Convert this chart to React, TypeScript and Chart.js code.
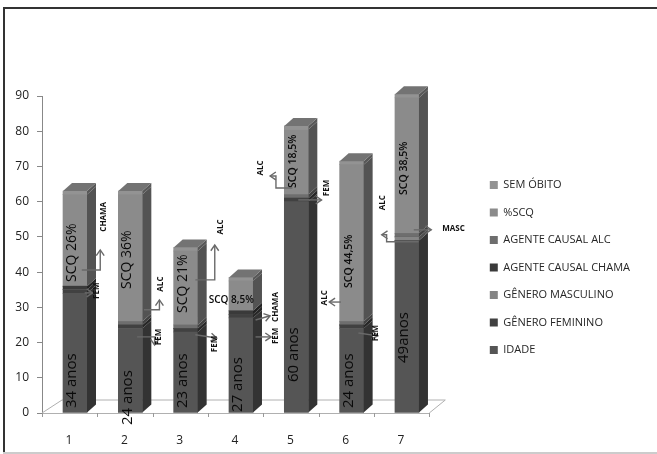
import { useEffect, useRef } from 'react';
import { Chart, registerables } from 'chart.js';
Chart.register(...registerables);

const categories = [1, 2, 3, 4, 5, 6, 7];
const idade = [34, 24, 23, 27, 60, 24, 49];
const generoFeminino = [1, 1, 1, 1, 1, 1, 0];
const generoMasculino = [0, 0, 0, 0, 0, 0, 1];
const agenteChama = [1, 0, 0, 1, 0, 0, 0];
const agenteAlc = [0, 1, 1, 0, 1, 1, 1];
const scq = [26, 36, 21, 8.5, 18.5, 44.5, 38.5];
const semObito = [1, 1, 1, 1, 1, 1, 1];

const idadeLabels = ['34 anos', '24 anos', '23 anos', '27 anos', '60 anos', '24 anos', '49anos'];
const scqLabels = ['SCQ 26%', 'SCQ 36%', 'SCQ 21%', 'SCQ 8,5%', 'SCQ 18,5%', 'SCQ 44,5%', 'SCQ 38,5%'];

// where (in axis units) each rotated label starts
const idadeLabelFrom = [1.4, -3.4, 1.4, 0.3, 8.8, 1.4, 14.2];
const scqLabelFrom = [37.2, 35.2, 28.4, 32.1, 63.9, 35.5, 61.9];
const scqLabelSize = [14, 14, 14, 10, 10.5, 10.5, 10.5];

const noteTexts = [
  { text: 'FEM', x: 1.386, y: 34.7, v: true },
  { text: 'CHAMA', x: 1.526, y: 55.7, v: true },
  { text: 'ALC', x: 2.544, y: 36.6, v: true },
  { text: 'FEM', x: 2.509, y: 21.6, v: true },
  { text: 'ALC', x: 3.632, y: 52.8, v: true },
  { text: 'FEM', x: 3.526, y: 19.6, v: true },
  { text: 'CHAMA', x: 4.632, y: 30.1, v: true },
  { text: 'FEM', x: 4.632, y: 21.9, v: true },
  { text: 'ALC', x: 4.351, y: 69.6, v: true },
  { text: 'FEM', x: 5.544, y: 63.9, v: true },
  { text: 'ALC', x: 5.509, y: 32.7, v: true },
  { text: 'FEM', x: 6.439, y: 22.7, v: true },
  { text: 'ALC', x: 6.561, y: 59.7, v: true },
  { text: 'MASC', x: 7.842, y: 52.3, v: false },
];

const noteArrows = [
  [[1.123, 40.6], [1.456, 40.6], [1.456, 46.3]],
  [[1.175, 34.1], [1.316, 34.1]],
  [[2.246, 29.3], [2.526, 29.3], [2.526, 32.1]],
  [[2.123, 21.6], [2.439, 21.6], [2.439, 19.3]],
  [[3.175, 37.8], [3.526, 37.8], [3.526, 47.7]],
  [[3.175, 22.2], [3.561, 21.3]],
  [[4.263, 26.4], [4.526, 27.6]],
  [[4.263, 21.6], [4.544, 21.6]],
  [[4.93, 63.9], [4.632, 63.9], [4.632, 67.3], [4.526, 67.3]],
  [[5.035, 60.5], [5.456, 60.5]],
  [[5.807, 31.5], [5.596, 31.5]],
  [[6.123, 22.7], [6.474, 21.9]],
  [[7.211, 48.6], [6.632, 48.6], [6.632, 50.6], [6.544, 50.6]],
  [[7.123, 52], [7.439, 52]],
];

const seriesDefs = [
  { label: 'IDADE', values: idade, color: '#555555' },
  { label: 'GÊNERO FEMININO', values: generoFeminino, color: '#414141' },
  { label: 'GÊNERO MASCULINO', values: generoMasculino, color: '#858585' },
  { label: 'AGENTE CAUSAL CHAMA', values: agenteChama, color: '#3a3a3a' },
  { label: 'AGENTE CAUSAL ALC', values: agenteAlc, color: '#6e6e6e' },
  { label: '%SCQ', values: scq, color: '#8b8b8b' },
  { label: 'SEM ÓBITO', values: semObito, color: '#939393' },
];

const DX = 9;
const DY = 8;

function shade(hex: string, f: number) {
  const n = parseInt(hex.slice(1), 16);
  const r = Math.round(((n >> 16) & 255) * f);
  const g = Math.round(((n >> 8) & 255) * f);
  const b = Math.round((n & 255) * f);
  return `rgb(${r},${g},${b})`;
}

const framePlugin = {
  id: 'frame',
  beforeDraw(chart: any) {
    const { ctx, width, height } = chart;
    ctx.save();
    ctx.fillStyle = '#ffffff';
    ctx.fillRect(0, 0, width, height);
    ctx.fillStyle = '#333333';
    ctx.fillRect(3, 7, width - 3, 2);
    ctx.fillRect(3, 7, 2, height - 7);
    ctx.fillStyle = '#cccccc';
    ctx.fillRect(3, height - 2, width - 3, 2);
    ctx.restore();
  },
};

const floorPlugin = {
  id: 'floor3d',
  beforeDatasetsDraw(chart: any) {
    const { ctx, chartArea } = chart;
    const xs = chart.scales.x;
    const l = chartArea.left;
    const r = chartArea.right;
    const b = chartArea.bottom;
    ctx.save();
    ctx.strokeStyle = '#b0b0b0';
    ctx.lineWidth = 1;
    ctx.beginPath();
    ctx.moveTo(l, b);
    ctx.lineTo(l + 20, b - 13);
    ctx.lineTo(r + 16, b - 13);
    ctx.lineTo(r, b);
    ctx.stroke();
    ctx.strokeStyle = '#999999';
    ctx.beginPath();
    for (let k = 0; k <= categories.length; k++) {
      const px = Math.round(xs.getPixelForValue(xs.min + k)) + 0.5;
      ctx.moveTo(px, b);
      ctx.lineTo(px, b + 4);
    }
    ctx.stroke();
    ctx.restore();
  },
};

const bar3dPlugin = {
  id: 'bar3d',
  afterDatasetsDraw(chart: any) {
    const { ctx } = chart;
    const n = categories.length;
    const topIdx: number[] = new Array(n).fill(-1);
    chart.data.datasets.forEach((ds: any, di: number) => {
      ds.data.forEach((p: any, i: number) => {
        if (p.y > 0) topIdx[i] = di;
      });
    });
    ctx.save();
    chart.data.datasets.forEach((ds: any, di: number) => {
      const meta = chart.getDatasetMeta(di);
      meta.data.forEach((el: any, i: number) => {
        const { x, y, base, width } = el.getProps(['x', 'y', 'base', 'width'], true);
        if (Math.abs(base - y) < 0.5) return;
        const left = x - width / 2;
        const right = x + width / 2;
        ctx.fillStyle = shade(ds.backgroundColor, 0.6);
        ctx.beginPath();
        ctx.moveTo(right, y);
        ctx.lineTo(right + DX, y - DY);
        ctx.lineTo(right + DX, base - DY);
        ctx.lineTo(right, base);
        ctx.closePath();
        ctx.fill();
        if (topIdx[i] === di) {
          ctx.fillStyle = shade(ds.backgroundColor, 0.78);
          ctx.beginPath();
          ctx.moveTo(left, y);
          ctx.lineTo(left + DX, y - DY);
          ctx.lineTo(right + DX, y - DY);
          ctx.lineTo(right, y);
          ctx.closePath();
          ctx.fill();
        }
      });
    });
    ctx.restore();
  },
};

const labelPlugin = {
  id: 'barLabels',
  afterDraw(chart: any) {
    const { ctx } = chart;
    const xs = chart.scales.x;
    const ys = chart.scales.y;
    ctx.save();
    ctx.fillStyle = '#0a0a0a';
    ctx.textBaseline = 'middle';
    const idMeta = chart.getDatasetMeta(0);
    idMeta.data.forEach((el: any, i: number) => {
      const cx = el.x - 3;
      ctx.save();
      ctx.translate(cx, ys.getPixelForValue(idadeLabelFrom[i]));
      ctx.rotate(-Math.PI / 2);
      ctx.textAlign = 'left';
      ctx.font = '500 15px "Open Sans"';
      ctx.fillText(idadeLabels[i], 0, 0);
      ctx.restore();
      ctx.save();
      if (i === 3) {
        ctx.textAlign = 'center';
        ctx.font = '600 ' + scqLabelSize[i] + 'px "Open Sans"';
        ctx.fillText(scqLabels[i], xs.getPixelForValue(3.825), ys.getPixelForValue(scqLabelFrom[i]));
      } else {
        ctx.translate(cx, ys.getPixelForValue(scqLabelFrom[i]));
        ctx.rotate(-Math.PI / 2);
        ctx.textAlign = 'left';
        ctx.font = (scqLabelSize[i] < 12 ? '600 ' : '500 ') + scqLabelSize[i] + 'px "Open Sans"';
        ctx.fillText(scqLabels[i], 0, 0);
      }
      ctx.restore();
    });

    // connectors
    ctx.strokeStyle = '#6a6a6a';
    ctx.lineWidth = 1.4;
    noteArrows.forEach((pts) => {
      const pp = pts.map(([vx, vy]) => [xs.getPixelForValue(vx), ys.getPixelForValue(vy)]);
      ctx.beginPath();
      ctx.moveTo(pp[0][0], pp[0][1]);
      for (let k = 1; k < pp.length; k++) ctx.lineTo(pp[k][0], pp[k][1]);
      ctx.stroke();
      const [ex, ey] = pp[pp.length - 1];
      const [sx, sy] = pp[pp.length - 2];
      const ang = Math.atan2(ey - sy, ex - sx);
      ctx.beginPath();
      ctx.moveTo(ex - 7 * Math.cos(ang - 0.6), ey - 7 * Math.sin(ang - 0.6));
      ctx.lineTo(ex, ey);
      ctx.lineTo(ex - 7 * Math.cos(ang + 0.6), ey - 7 * Math.sin(ang + 0.6));
      ctx.stroke();
    });

    ctx.fillStyle = '#111111';
    ctx.font = 'bold 8px "Open Sans"';
    noteTexts.forEach((t) => {
      const px = xs.getPixelForValue(t.x);
      const py = ys.getPixelForValue(t.y);
      ctx.save();
      ctx.translate(px, py);
      if (t.v) ctx.rotate(-Math.PI / 2);
      ctx.textAlign = 'center';
      ctx.fillText(t.text, 0, 0);
      ctx.restore();
    });
    ctx.restore();
  },
};

export default function App() {
  const ref = useRef<HTMLCanvasElement>(null);
  useEffect(() => {
    if (!ref.current) return;
    const chart = new Chart(ref.current, {
      type: 'bar',
      data: {
        datasets: seriesDefs.map((s) => ({
          label: s.label,
          data: categories.map((c, i) => ({ x: c, y: s.values[i] })),
          backgroundColor: s.color,
          borderWidth: 0,
          barThickness: 24,
          stack: 's',
          clip: false as any,
        })),
      },
      options: {
        animation: false,
        responsive: true,
        maintainAspectRatio: false,
        layout: { padding: { top: 81, bottom: 0, left: 0, right: 17 } },
        plugins: {
          tooltip: { enabled: false },
          title: {
            display: true,
            text: '',
            padding: 0,
            font: { size: 12, lineHeight: 1.25 },
          },
          legend: {
            position: 'right',
            reverse: true,
            maxWidth: 220,
            labels: {
              boxWidth: 8,
              boxHeight: 8,
              padding: 16.5,
              color: '#262626',
              font: { family: '"Open Sans"', size: 11 },
            },
          },
        },
        scales: {
          x: {
            type: 'linear',
            stacked: true,
            offset: false,
            min: 0.4035,
            max: 7.4035,
            grid: { display: false, offset: false },
            border: { display: true, color: '#b0b0b0' },
            afterBuildTicks: (s: any) => {
              s.ticks = categories.map((c) => ({ value: c }));
            },
            ticks: {
              display: true,
              autoSkip: false,
              maxRotation: 0,
              labelOffset: -6,
              padding: 12,
              color: '#222222',
              font: { family: '"Open Sans"', size: 12 },
              callback: (v: any) => String(v),
            },
            afterFit: (s: any) => {
              s.height = 41;
            },
          },
          y: {
            stacked: true,
            min: 0,
            max: 90,
            grid: { drawOnChartArea: false, tickLength: 5, color: '#888888' },
            border: { display: true, color: '#888888' },
            ticks: {
              stepSize: 10,
              padding: 8,
              color: '#222222',
              font: { family: '"Open Sans"', size: 12 },
            },
            afterFit: (s: any) => {
              s.width = 42;
            },
          },
          yRight: {
            position: 'right',
            display: true,
            min: 0,
            max: 90,
            grid: { display: false },
            border: { display: false },
            ticks: { display: false },
            afterFit: (s: any) => {
              s.width = 44;
            },
          },
        },
      } as any,
      plugins: [framePlugin, floorPlugin, bar3dPlugin, labelPlugin],
    });
    return () => chart.destroy();
  }, []);
  return (
    <div style={{ position: 'fixed', left: 0, top: 0, width: 657, height: 454 }}>
      <canvas ref={ref} />
    </div>
  );
}
